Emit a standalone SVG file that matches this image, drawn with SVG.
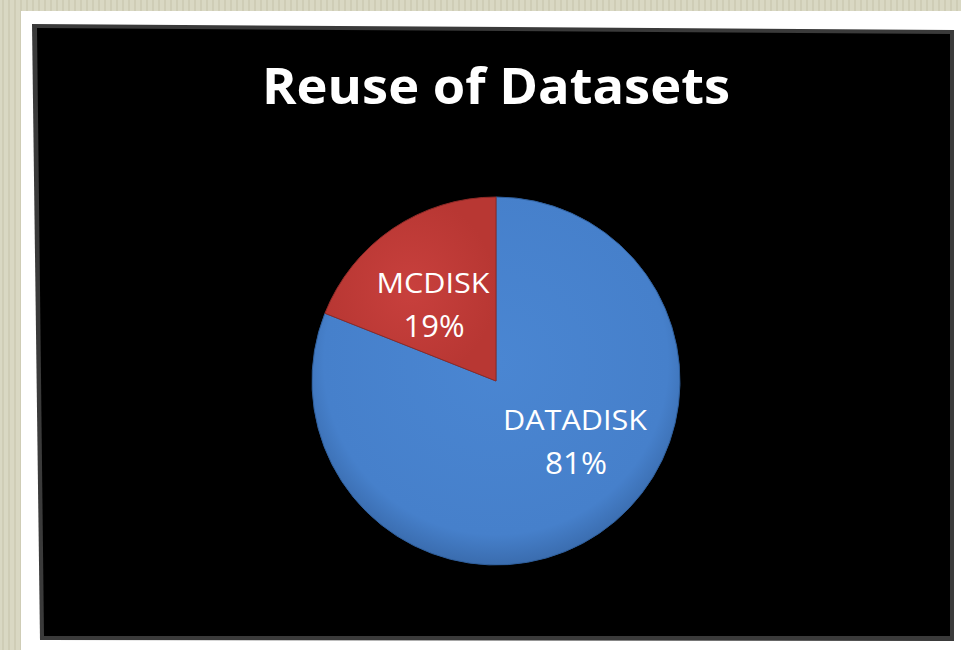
<svg xmlns="http://www.w3.org/2000/svg" width="961" height="650" viewBox="0 0 961 650">
<defs>
<style>
.lbl{font-family:"Open Sans","Liberation Sans",sans-serif;font-size:28px;fill:#ffffff;text-anchor:middle}
.pct{font-size:31px}
.title{font-family:"Open Sans","Liberation Sans",sans-serif;font-size:50px;font-weight:bold;fill:#ffffff;text-anchor:middle}
</style>
<radialGradient id="gBlue" cx="0.5" cy="0.45" r="0.55">
<stop offset="0" stop-color="#4a86d2"/>
<stop offset="0.85" stop-color="#4680cb"/>
<stop offset="1" stop-color="#3a6cae"/>
</radialGradient>
<radialGradient id="gRed" cx="0.5" cy="0.5" r="0.5" gradientUnits="objectBoundingBox">
<stop offset="0" stop-color="#c8403d"/>
<stop offset="1" stop-color="#b83733"/>
</radialGradient>
<pattern id="tex" width="6" height="650" patternUnits="userSpaceOnUse">
<rect width="6" height="650" fill="#d9d8c3"/>
<rect x="2" width="2" height="650" fill="#cfcdb6"/>
</pattern>
</defs>
<rect width="961" height="650" fill="url(#tex)"/>
<rect x="21" y="11" width="940" height="639" fill="#ffffff"/>
<polygon points="32,24 954,30 954,641 40,640" fill="#3a3a3a"/>
<polygon points="37,28 950,34 950,636 44,636" fill="#000000"/>
<g id="title">
<text class="title" x="496" y="104" textLength="468" lengthAdjust="spacingAndGlyphs">Reuse of Datasets</text>
</g>
<g id="datadisk">
<path d="M496,381 L496,197 A184,184 0 1,1 324.9,313.3 Z" fill="url(#gBlue)" stroke="#2f5f9c" stroke-width="1"/>
<text class="lbl" x="575" y="430" textLength="144" lengthAdjust="spacingAndGlyphs">DATADISK</text>
<text class="lbl pct" x="576" y="474" textLength="62" lengthAdjust="spacingAndGlyphs">81%</text>
</g>
<g id="mcdisk">
<path d="M496,381 L324.9,313.3 A184,184 0 0,1 496,197 Z" fill="url(#gRed)" stroke="#8e2a27" stroke-width="1"/>
<text class="lbl" x="433" y="293" textLength="113" lengthAdjust="spacingAndGlyphs">MCDISK</text>
<text class="lbl pct" x="434" y="337" textLength="61" lengthAdjust="spacingAndGlyphs">19%</text>
</g>
</svg>
